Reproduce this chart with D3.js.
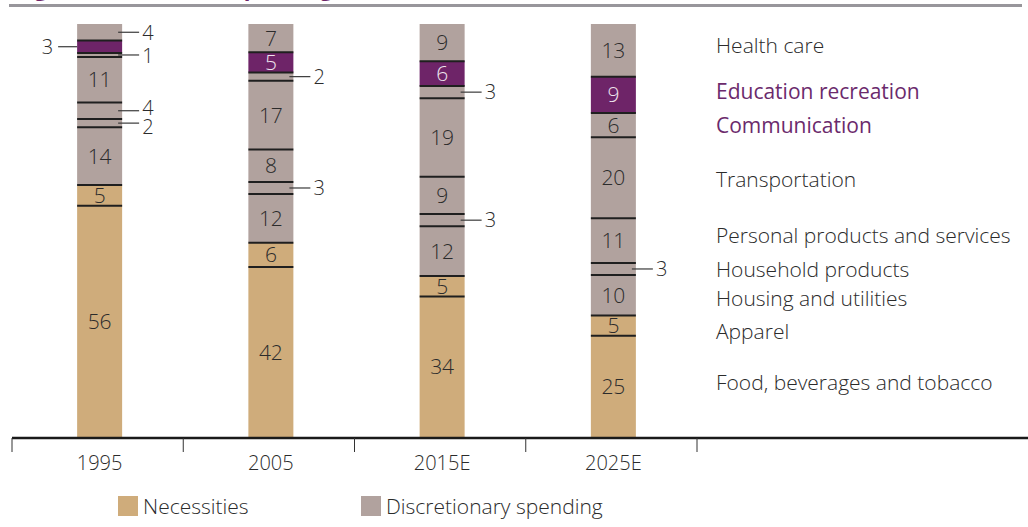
<!DOCTYPE html>
<html>

<head>
    <script src="https://cdnjs.cloudflare.com/ajax/libs/d3/7.8.5/d3.min.js"></script>
    <style>
        body {
            margin: 0;
            background: #fff;
        }

        text {
            font-family: 'Open Sans', 'Noto Sans', sans-serif;
            font-weight: 300;
            fill: #2b2b2b;
        }

        .title {
            font-weight: 700;
            fill: #6e2468;
        }
    </style>
</head>

<body>
    <script>
        // categories, bottom of the bar to the top
        const categories = ["Food, beverages and tobacco", "Apparel", "Housing and utilities", "Household products",
            "Personal products and services", "Transportation", "Communication", "Education recreation", "Health care"]
        const necessities = ["Food, beverages and tobacco", "Apparel"]
        const years = ["1995", "2005", "2015E", "2025E"]

        const v1995 = [56, 5, 14, 2, 4, 11, 1, 3, 4]
        const v2005 = [42, 6, 12, 3, 8, 17, 2, 5, 7]
        const v2015 = [34, 5, 12, 3, 9, 19, 3, 6, 9]
        const v2025 = [25, 5, 10, 3, 11, 20, 6, 9, 13]
        const values = [v1995, v2005, v2015, v2025]

        const legendNames = ["Necessities", "Discretionary spending"]

        const w = 1028
        const h = 527
        const tan = "#cfac7b"
        const mauve = "#b1a29e"
        const purple = "#6e2468"

        // label nudges so the side labels don't collide (px)
        const sideNudge = { "1995|Health care": 1, "1995|Communication": 1, "1995|Personal products and services": -3, "1995|Household products": 4 }
        const leftLabels = ["1995|Education recreation"]
        const legendNudge = [-4, 6, 3, 0, -5, 2, 0, -3, -5]

        const svg = d3.select("body")
            .append("svg")
            .attr("width", w)
            .attr("height", h)

        // cut-off title and rule at the top
        svg.append("text")
            .attr("class", "title")
            .attr("x", 16)
            .attr("y", -4)
            .style("font-size", "22px")
            .text("Figure 1: Consumer spending")
        svg.append("rect")
            .attr("x", 9).attr("y", 4)
            .attr("width", w - 15).attr("height", 3)
            .attr("fill", "#98969b")

        const x = d3.scaleBand()
            .domain(years)
            .range([12, 697])

        const barW = 45
        const barX = yr => x(yr) + x.bandwidth() / 2 + 2 - barW / 2

        const y = d3.scaleLinear()
            .domain([0, 1])
            .range([437, 24])

        // build stacked segments, each bar normalised to 100%
        let segs = []
        years.forEach((yr, i) => {
            const total = d3.sum(values[i])
            let cum = 0
            values[i].forEach((v, j) => {
                segs.push({ year: yr, cat: categories[j], v: v, y0: cum / total, y1: (cum + v) / total, top: j == categories.length - 1 })
                cum += v
            })
        })

        function fillOf(d) {
            if (d.cat == "Education recreation") return purple
            return necessities.includes(d.cat) ? tan : mauve
        }

        svg.selectAll("rect.seg")
            .data(segs)
            .enter()
            .append("rect")
            .attr("class", "seg")
            .attr("x", d => barX(d.year))
            .attr("y", d => y(d.y1))
            .attr("width", barW)
            .attr("height", d => y(d.y0) - y(d.y1))
            .attr("fill", fillOf)

        // separators
        svg.selectAll("line.sep")
            .data(segs.filter(d => !d.top))
            .enter()
            .append("line")
            .attr("x1", d => barX(d.year))
            .attr("x2", d => barX(d.year) + barW)
            .attr("y1", d => y(d.y1))
            .attr("y2", d => y(d.y1))
            .attr("stroke", "#1f1f1f")
            .attr("stroke-width", 2)

        // inside labels
        svg.selectAll("text.inl")
            .data(segs.filter(d => d.v > 4))
            .enter()
            .append("text")
            .attr("x", d => barX(d.year) + barW / 2)
            .attr("y", d => (y(d.y0) + y(d.y1)) / 2)
            .attr("dy", "0.36em")
            .attr("text-anchor", "middle")
            .style("font-size", "21px")
            .style("fill", d => d.cat == "Education recreation" ? "#eee4ee" : "#2b2b2b")
            .text(d => d.v)

        // outside labels with leaders
        const outs = segs.filter(d => d.v <= 4)
        outs.forEach(d => {
            const key = d.year + "|" + d.cat
            const cy = (y(d.y0) + y(d.y1)) / 2
            const left = leftLabels.includes(key)
            const nudge = sideNudge[key] || 0
            const bx = barX(d.year)
            svg.append("line")
                .attr("x1", left ? bx - 19 : bx + barW - 4)
                .attr("x2", left ? bx : bx + barW + 17)
                .attr("y1", cy).attr("y2", cy)
                .attr("stroke", "#3a3a3a")
                .attr("stroke-width", 1.2)
            svg.append("text")
                .attr("x", left ? bx - 24 : bx + barW + 20)
                .attr("y", cy + nudge)
                .attr("dy", "0.36em")
                .attr("text-anchor", left ? "end" : "start")
                .style("font-size", "20px")
                .text(d.v)
        })

        // x axis
        svg.append("line")
            .attr("x1", 12).attr("x2", w)
            .attr("y1", 438).attr("y2", 438)
            .attr("stroke", "#1a1a1a")
            .attr("stroke-width", 2.5)

        const ticks = years.map(yr => x(yr)).concat([x.range()[1]])
        svg.selectAll("line.tick")
            .data(ticks)
            .enter()
            .append("line")
            .attr("x1", d => d).attr("x2", d => d)
            .attr("y1", 438).attr("y2", 452)
            .attr("stroke", "#333")
            .attr("stroke-width", 1)

        svg.selectAll("text.year")
            .data(years)
            .enter()
            .append("text")
            .attr("x", d => barX(d) + barW / 2)
            .attr("y", 463)
            .attr("dy", "0.36em")
            .attr("text-anchor", "middle")
            .style("font-size", "20px")
            .text(d => d)

        // category labels on the right, lined up with the 2025 bar
        const last = segs.filter(d => d.year == years[years.length - 1])
        svg.selectAll("text.cat")
            .data(last)
            .enter()
            .append("text")
            .attr("x", 716)
            .attr("y", (d, i) => (y(d.y0) + y(d.y1)) / 2 + legendNudge[i])
            .attr("dy", "0.36em")
            .style("font-size", "21px")
            .style("font-weight", d => (d.cat == "Education recreation" || d.cat == "Communication") ? 500 : 300)
            .style("fill", d => (d.cat == "Education recreation" || d.cat == "Communication") ? "#6b2a6c" : "#2b2b2b")
            .text(d => d.cat)

        // legend
        const lg = svg.selectAll("g.lg")
            .data(legendNames)
            .enter()
            .append("g")
            .attr("transform", (d, i) => "translate(" + [118, 361][i] + ",496)")
        lg.append("rect")
            .attr("width", 20).attr("height", 20)
            .attr("fill", (d, i) => [tan, mauve][i])
        lg.append("text")
            .attr("x", 25)
            .attr("y", 10)
            .attr("dy", "0.36em")
            .style("font-size", "21px")
            .text(d => d)
    </script>
</body>

</html>
